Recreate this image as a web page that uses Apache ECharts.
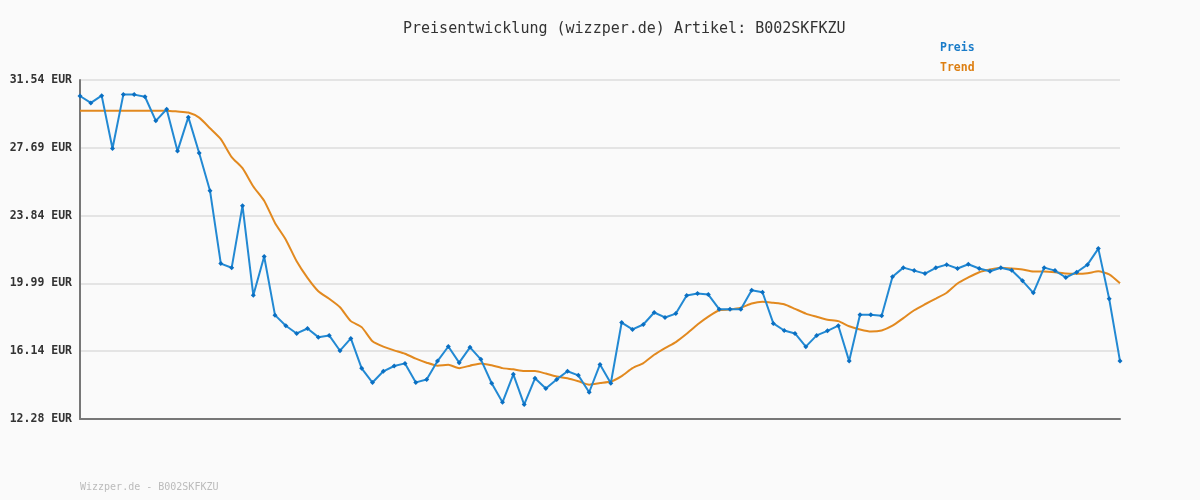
<!DOCTYPE html>
<html>
<head>
<meta charset="utf-8">
<script src="https://cdn.jsdelivr.net/npm/echarts@6/dist/echarts.min.js"></script>
<style>
  html, body { margin: 0; padding: 0; background: #fafafa; }
  #chart { width: 1200px; height: 500px; }
</style>
</head>
<body>
<div id="chart"></div>
<script>
// price history, one value per sample (oldest first)
const preis = [
  30.63, 30.24, 30.65, 27.65, 30.71, 30.71, 30.59, 29.22, 29.88, 27.50,
  29.43, 27.39, 25.25, 21.11, 20.87, 24.40, 19.31, 21.51, 18.18, 17.58,
  17.14, 17.42, 16.93, 17.03, 16.16, 16.86, 15.16, 14.35, 14.99, 15.29,
  15.44, 14.36, 14.52, 15.57, 16.40, 15.48, 16.35, 15.67, 14.31, 13.23,
  14.82, 13.10, 14.59, 14.01, 14.53, 14.99, 14.76, 13.80, 15.38, 14.31,
  17.76, 17.37, 17.65, 18.33, 18.05, 18.27, 19.30, 19.41, 19.35, 18.52,
  18.52, 18.52, 19.60, 19.48, 17.71, 17.31, 17.14, 16.39, 17.03, 17.29,
  17.58, 15.57, 18.20, 18.20, 18.14, 20.36, 20.88, 20.71, 20.54, 20.87,
  21.05, 20.83, 21.07, 20.83, 20.67, 20.87, 20.73, 20.13, 19.45, 20.88,
  20.71, 20.32, 20.62, 21.05, 21.96, 19.11, 15.57
]

const trend = [
  29.80, 29.80, 29.80, 29.80, 29.80, 29.80, 29.80, 29.80, 29.80, 29.75,
  29.69, 29.40, 28.80, 28.18, 27.16, 26.53, 25.49, 24.68, 23.42, 22.47,
  21.24, 20.30, 19.54, 19.11, 18.63, 17.84, 17.50, 16.70, 16.39, 16.18,
  15.99, 15.71, 15.48, 15.31, 15.36, 15.17, 15.31, 15.44, 15.33, 15.17,
  15.10, 15.00, 15.00, 14.86, 14.69, 14.59, 14.42, 14.23, 14.32, 14.41,
  14.72, 15.17, 15.46, 15.93, 16.31, 16.65, 17.12, 17.65, 18.10, 18.46,
  18.50, 18.60, 18.84, 18.94, 18.88, 18.80, 18.54, 18.27, 18.09, 17.92,
  17.84, 17.55, 17.37, 17.25, 17.31, 17.58, 18.01, 18.46, 18.80, 19.12,
  19.45, 19.98, 20.32, 20.62, 20.77, 20.87, 20.83, 20.77, 20.66, 20.66,
  20.62, 20.54, 20.53, 20.56, 20.67, 20.50, 19.99
]

const yTickLabels = ['12.28', '16.14', '19.99', '23.84', '27.69', '31.54']
const yMin = 12.28
const yMax = 31.54
const yStep = (yMax - yMin) / 5

const categories = preis.map((v, i) => String(i))

const mono = 'DejaVu Sans Mono'
const chart = echarts.init(document.getElementById('chart'))

chart.setOption({
  backgroundColor: '#fafafa',
  animation: false,
  title: {
    text: 'Preisentwicklung (wizzper.de) Artikel: B002SKFKZU',
    left: 398,
    top: 17,
    textStyle: {
      fontFamily: mono,
      fontSize: 15,
      fontWeight: 'normal',
      color: '#333333'
    }
  },
  legend: {
    orient: 'vertical',
    left: 929,
    top: 37,
    itemWidth: 0,
    itemHeight: 0,
    itemGap: 8,
    data: [
      { name: 'Preis', textStyle: { color: '#1a7cc9' } },
      { name: 'Trend', textStyle: { color: '#dd7f12' } }
    ],
    textStyle: {
      fontFamily: mono,
      fontSize: 11.5,
      fontWeight: 'bold'
    }
  },
  graphic: [
    {
      type: 'text',
      left: 80,
      top: 482,
      style: {
        text: 'Wizzper.de - B002SKFKZU',
        fontFamily: mono,
        fontSize: 10,
        fill: '#bbbbbb'
      }
    }
  ],
  grid: {
    left: 80,
    right: 80,
    top: 80,
    bottom: 81,
    containLabel: false
  },
  xAxis: {
    type: 'category',
    data: categories,
    boundaryGap: false,
    axisLine: { lineStyle: { color: '#777777', width: 2 } },
    axisTick: { show: false },
    axisLabel: { show: false },
    splitLine: { show: false }
  },
  yAxis: {
    type: 'value',
    min: yMin,
    max: yMax,
    interval: yStep,
    axisLine: { show: true, lineStyle: { color: '#777777', width: 2 } },
    axisTick: { show: false },
    axisLabel: {
      margin: 8,
      fontFamily: mono,
      fontSize: 11.5,
      fontWeight: 'bold',
      color: '#333333',
      formatter: v => yTickLabels[Math.round((v - yMin) / yStep)] + ' EUR'
    },
    splitLine: { lineStyle: { color: '#e4e4e4', width: 2 } }
  },
  series: [
    {
      name: 'Trend',
      type: 'line',
      data: trend,
      showSymbol: false,
      symbol: 'none',
      smooth: 0.2,
      lineStyle: { color: '#e2891f', width: 2 },
      itemStyle: { color: '#e2891f' },
      z: 2
    },
    {
      name: 'Preis',
      type: 'line',
      data: preis,
      symbol: 'diamond',
      symbolSize: 5,
      lineStyle: { color: '#2289d3', width: 2 },
      itemStyle: { color: '#0a6fc2' },
      z: 3
    }
  ]
})
</script>
</body>
</html>
